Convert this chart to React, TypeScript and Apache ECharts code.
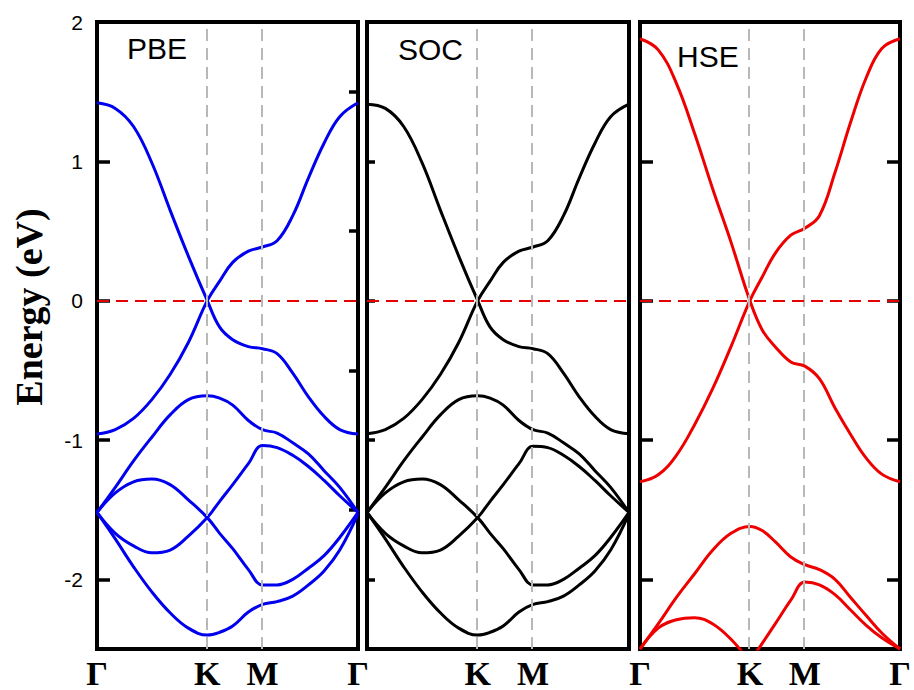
import React, { useEffect, useRef } from "react";
import * as echarts from "echarts";

// high-symmetry points along the path Γ–K–M–Γ (fraction of path length)
const K = 0.4226;
const M = 0.634;
const kPath = [0, 0.07, 0.14, 0.21, 0.28, 0.35, K, 0.47, 0.52, 0.58, M, 0.69, 0.75, 0.81, 0.87, 0.93, 1];
const kTickValues = [0, K, M, 1];
const kTickLabels = ["Γ", "K", "M", "Γ"];
const energyLabels = [-2, -1, 0, 1, 2];
const majorTicks = [-2, -1, 0, 1];
const minorTicks = [-1.5, -0.5, 0.5, 1.5];

// PBE bands (eV)
const pbeX1 = [1.42, 1.38, 1.25, 0.99, 0.65, 0.32, 0, -0.19, -0.28, -0.33, -0.345, -0.38, -0.52, -0.69, -0.83, -0.925, -0.957];
const pbeX2 = [-0.957, -0.925, -0.845, -0.71, -0.53, -0.3, 0, 0.14, 0.275, 0.355, 0.385, 0.43, 0.61, 0.88, 1.13, 1.32, 1.42];
const pbeV2 = [-1.52, -1.34, -1.15, -0.98, -0.82, -0.71, -0.683, -0.7, -0.75, -0.86, -0.926, -0.95, -1.02, -1.1, -1.22, -1.34, -1.52];
const pbeX3 = [-1.52, -1.38, -1.3, -1.28, -1.32, -1.43, -1.557, -1.67, -1.78, -1.93, -2.04, -2.04, -2.0, -1.92, -1.83, -1.7, -1.52];
const pbeX4 = [-1.52, -1.67, -1.76, -1.81, -1.79, -1.69, -1.557, -1.44, -1.32, -1.17, -1.04, -1.055, -1.11, -1.19, -1.29, -1.4, -1.52];
const pbeV5 = [-1.52, -1.71, -1.91, -2.09, -2.24, -2.35, -2.4, -2.38, -2.335, -2.235, -2.18, -2.16, -2.12, -2.04, -1.94, -1.79, -1.53];

// SOC bands (eV)
const socX1 = [1.41, 1.38, 1.25, 0.99, 0.65, 0.32, 0, -0.19, -0.28, -0.33, -0.345, -0.38, -0.52, -0.69, -0.83, -0.925, -0.955];
const socX2 = [-0.955, -0.925, -0.845, -0.71, -0.53, -0.3, 0, 0.14, 0.275, 0.355, 0.385, 0.43, 0.61, 0.88, 1.13, 1.32, 1.41];
const socV2 = [-1.52, -1.34, -1.15, -0.98, -0.82, -0.71, -0.683, -0.7, -0.75, -0.86, -0.926, -0.95, -1.02, -1.1, -1.22, -1.34, -1.52];
const socX3 = [-1.52, -1.38, -1.3, -1.28, -1.32, -1.43, -1.557, -1.67, -1.78, -1.93, -2.04, -2.04, -2.0, -1.92, -1.83, -1.7, -1.52];
const socX4 = [-1.52, -1.67, -1.76, -1.81, -1.79, -1.69, -1.557, -1.44, -1.32, -1.17, -1.045, -1.055, -1.11, -1.19, -1.29, -1.4, -1.52];
const socV5 = [-1.52, -1.71, -1.91, -2.09, -2.24, -2.35, -2.4, -2.38, -2.335, -2.235, -2.18, -2.16, -2.12, -2.04, -1.94, -1.79, -1.53];

// HSE bands (eV); null = outside the plotted window
const hseX1 = [1.88, 1.8, 1.56, 1.2, 0.8, 0.42, 0, -0.21, -0.33, -0.44, -0.47, -0.56, -0.77, -0.96, -1.13, -1.245, -1.3];
const hseX2 = [-1.3, -1.25, -1.11, -0.89, -0.63, -0.33, 0, 0.17, 0.34, 0.47, 0.52, 0.61, 0.92, 1.28, 1.6, 1.81, 1.88];
const hseV2 = [-2.5, -2.32, -2.13, -1.96, -1.79, -1.67, -1.62, -1.65, -1.73, -1.84, -1.895, -1.93, -2.0, -2.13, -2.26, -2.385, -2.5];
const hseX3 = [-2.5, -2.35, -2.29, -2.275, -2.32, -2.43, -2.59, null, null, null, null, null, null, null, null, null, null];
const hseX4 = [null, null, null, null, null, null, -2.59, -2.46, -2.32, -2.15, -2.02, -2.04, -2.11, -2.22, -2.33, -2.42, -2.5];

const panelNames = ["PBE", "SOC", "HSE"];
const panelColors = ["#0000ee", "#000000", "#ee0000"];
const panelBands = [
  [pbeX1, pbeX2, pbeV2, pbeX3, pbeX4, pbeV5],
  [socX1, socX2, socV2, socX3, socX4, socV5],
  [hseX1, hseX2, hseV2, hseX3, hseX4],
];

const gridBoxes = [
  { left: 97, top: 22, width: 261, height: 630 },
  { left: 367, top: 22, width: 262, height: 630 },
  { left: 640, top: 22, width: 260, height: 630 },
];
const titlePos = [
  { left: 127, top: 33 },
  { left: 398, top: 34 },
  { left: 677, top: 41 },
];

function kLabel(v: number): string {
  for (let i = 0; i < kTickValues.length; i++) {
    if (Math.abs(kTickValues[i] - v) < 1e-6) return kTickLabels[i];
  }
  return "";
}

export default function App() {
  const ref = useRef<HTMLDivElement>(null);
  useEffect(() => {
    if (!ref.current) return;
    const chart = echarts.init(ref.current, undefined, { renderer: "svg" });

    const grid = gridBoxes.map((g) => ({
      ...g,
      show: true,
      borderColor: "#000",
      borderWidth: 4,
      backgroundColor: "transparent",
      containLabel: false,
    }));

    const xAxis = gridBoxes.map((_, i) => ({
      gridIndex: i,
      type: "value",
      min: 0,
      max: 1,
      axisLine: { show: false },
      axisTick: { show: false },
      splitLine: { show: false },
      axisLabel: {
        show: true,
        customValues: i === 1 ? [K, M] : kTickValues,
        formatter: (v: number) => kLabel(v),
        margin: 7,
        fontFamily: "Liberation Serif",
        fontWeight: "bold",
        fontSize: 34,
        color: "#000",
      },
    }));

    const yAxis: any[] = gridBoxes.map((_, i) => ({
      gridIndex: i,
      type: "value",
      min: -2.5,
      max: 2,
      axisLine: { show: false },
      splitLine: { show: false },
      axisTick: {
        show: true,
        inside: true,
        customValues: majorTicks,
        length: i === 1 ? 8 : 13,
        lineStyle: { color: "#000", width: 3.5 },
      },
      axisLabel:
        i === 0
          ? {
              show: true,
              customValues: energyLabels,
              fontFamily: "Liberation Sans",
              fontSize: 21,
              color: "#000",
              margin: 14,
            }
          : { show: false },
    }));
    // minor ticks on PBE panel
    yAxis.push({
      gridIndex: 0,
      type: "value",
      min: -2.5,
      max: 2,
      axisLine: { show: false },
      splitLine: { show: false },
      axisLabel: { show: false },
      axisTick: {
        show: true,
        inside: true,
        customValues: minorTicks,
        length: 9,
        lineStyle: { color: "#000", width: 3.5 },
      },
    });
    // right-side ticks on HSE panel
    yAxis.push({
      gridIndex: 2,
      type: "value",
      position: "right",
      min: -2.5,
      max: 2,
      axisLine: { show: false },
      splitLine: { show: false },
      axisLabel: { show: false },
      axisTick: {
        show: true,
        inside: true,
        customValues: majorTicks,
        length: 13,
        lineStyle: { color: "#000", width: 3.5 },
      },
    });

    const series: any[] = [];
    panelBands.forEach((bands, p) => {
      bands.forEach((band, b) => {
        const data = kPath
          .map((k, i) => [k, band[i]])
          .filter((pt) => pt[1] !== null && pt[1] !== undefined);
        const s: any = {
          type: "line",
          xAxisIndex: p,
          yAxisIndex: p,
          data,
          smooth: 0.4,
          showSymbol: false,
          symbol: "none",
          clip: true,
          lineStyle: { color: panelColors[p], width: 3 },
          itemStyle: { color: panelColors[p] },
          silent: true,
        };
        if (b === bands.length - 1) {
          s.markLine = {
            silent: true,
            symbol: ["none", "none"],
            label: { show: false },
            animation: false,
            data: [
              { xAxis: K, lineStyle: { color: "#b8b8b8", width: 2, type: [12, 7] } },
              { xAxis: M, lineStyle: { color: "#b8b8b8", width: 2, type: [12, 7] } },
              { yAxis: 0, lineStyle: { color: "#e60000", width: 2, type: [12, 7] } },
            ],
          };
        }
        series.push(s);
      });
    });

    const option: any = {
      animation: false,
      backgroundColor: "#ffffff",
      title: panelNames.map((name, i) => ({
        text: name,
        left: titlePos[i].left,
        top: titlePos[i].top,
        padding: 0,
        textStyle: {
          fontFamily: "Liberation Sans",
          fontWeight: "normal",
          fontSize: 30,
          color: "#000",
        },
      })),
      grid,
      xAxis,
      yAxis,
      series,
      graphic: [
        {
          type: "text",
          x: 29,
          y: 307,
          rotation: Math.PI / 2,
          style: {
            text: "Energy (eV)",
            font: 'bold 38px "Liberation Serif"',
            fill: "#000",
            align: "center",
            verticalAlign: "middle",
          },
        },
      ],
    };
    chart.setOption(option);
    return () => chart.dispose();
  }, []);

  return (
    <div
      ref={ref}
      style={{ position: "fixed", left: 0, top: 0, width: 914, height: 690, background: "#fff" }}
    />
  );
}
